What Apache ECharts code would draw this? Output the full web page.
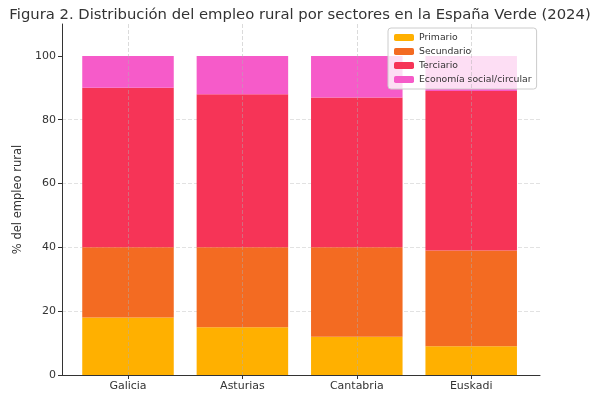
<!DOCTYPE html>
<html>
<head>
<meta charset="utf-8">
<script src="https://cdn.jsdelivr.net/npm/echarts@6/dist/echarts.min.js"></script>
<style>
  html, body { margin: 0; padding: 0; background: #fff; }
  #chart { width: 600px; height: 396px; }
</style>
</head>
<body>
<div id="chart"></div>
<script>
// ---- datos (% del empleo rural)
var categories = ['Galicia', 'Asturias', 'Cantabria', 'Euskadi'];
var primario   = [18, 15, 12, 9];
var secundario = [22, 25, 28, 30];
var terciario  = [50, 48, 47, 50];
var economia   = [10, 12, 13, 11];
var seriesNames = ['Primario', 'Secundario', 'Terciario', 'Economía social/circular'];
var colors = ['#FFB000', '#F36B22', '#F63457', '#F65BC9'];

var myChart = echarts.init(document.getElementById('chart'));

function barSerie(i, values) {
    return {
        name: seriesNames[i],
        type: 'bar',
        stack: 'total',
        xAxisIndex: 1,
        yAxisIndex: 1,
        barWidth: '80%',
        data: values,
        itemStyle: { color: colors[i] },
        emphasis: { disabled: true }
    };
}

var option = {
    backgroundColor: '#fff',
    animation: false,
    textStyle: { fontFamily: 'DejaVu Sans' },
    title: {
        text: 'Figura 2. Distribución del empleo rural por sectores en la España Verde (2024)',
        left: 'center',
        top: 3,
        textStyle: { fontSize: 14.8, fontWeight: 'normal', color: '#333' }
    },
    legend: {
        data: seriesNames,
        orient: 'vertical',
        left: 388,
        top: 28,
        itemWidth: 20,
        itemHeight: 7,
        itemGap: 3,
        padding: [4, 5, 4, 6],
        backgroundColor: 'rgba(255,255,255,0.8)',
        borderColor: '#ccc',
        borderWidth: 1,
        borderRadius: 3,
        textStyle: { fontSize: 9.3, color: '#333', lineHeight: 11 },
        itemStyle: { borderWidth: 0 }
    },
    grid: [
        // marco / ejes
        { left: 62, right: 60, top: 24, bottom: 21 },
        // barras
        { left: 70.8, right: 71.6, top: 24, bottom: 21 },
        // rejilla vertical por encima de las barras
        { left: 13.6, right: 14.4, top: 24, bottom: 21 }
    ],
    xAxis: [
        {
            gridIndex: 0, type: 'category', data: categories,
            axisLine: { lineStyle: { color: '#333', width: 1 } },
            axisTick: { show: false }, axisLabel: { show: false }, splitLine: { show: false }
        },
        {
            gridIndex: 1, type: 'category', data: categories,
            axisLine: { show: false },
            axisTick: { show: true, alignWithLabel: true, length: 4, lineStyle: { color: '#333' } },
            axisLabel: { fontSize: 11, color: '#333', margin: 6 },
            splitLine: { show: false }
        },
        {
            gridIndex: 2, type: 'category', boundaryGap: false,
            data: [''].concat(categories, ['']),
            z: 5,
            axisLine: { show: false }, axisTick: { show: false }, axisLabel: { show: false },
            splitLine: {
                show: true,
                interval: function (i) { return i > 0 && i < categories.length + 1; },
                lineStyle: { color: 'rgba(176,176,176,0.45)', type: 'dashed', width: 1 }
            }
        }
    ],
    yAxis: [
        {
            gridIndex: 0, type: 'value', min: 0, max: 110, interval: 20,
            name: '% del empleo rural',
            nameLocation: 'middle',
            nameGap: 29,
            nameTextStyle: { fontSize: 11.5, color: '#333' },
            axisLine: { show: true, lineStyle: { color: '#333', width: 1 } },
            axisTick: { show: true, length: 4, lineStyle: { color: '#333' }, customValues: [0, 20, 40, 60, 80, 100] },
            axisLabel: { fontSize: 11, color: '#333', margin: 6, showMaxLabel: false },
            splitLine: { show: true, showMaxLine: false, lineStyle: { color: '#e2e2e2', type: 'dashed' } }
        },
        { gridIndex: 1, type: 'value', min: 0, max: 110, show: false },
        { gridIndex: 2, type: 'value', min: 0, max: 110, show: false }
    ],
    series: [
        barSerie(0, primario),
        barSerie(1, secundario),
        barSerie(2, terciario),
        barSerie(3, economia)
    ]
};

myChart.setOption(option);
</script>
</body>
</html>
